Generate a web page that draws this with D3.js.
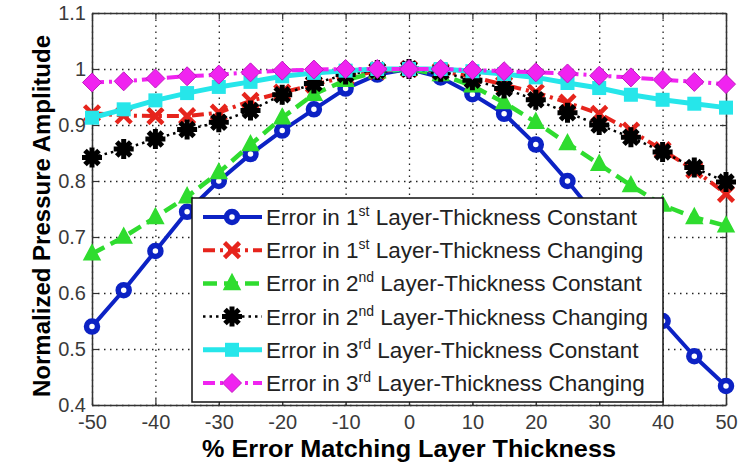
<!DOCTYPE html>
<html>
<head>
<meta charset="utf-8">
<script src="https://cdn.jsdelivr.net/npm/d3@7"></script>
<style>
body { margin: 0; background: #fff; }
svg text { font-family: "Liberation Sans", Arial, sans-serif; }
</style>
</head>
<body>
<div id="plot"></div>
<script>
var W = 745, H = 464;
var padLeft = 92, padRight = 726, padTop = 13, padBottom = 405;

// data
var errPct = [-50,-45,-40,-35,-30,-25,-20,-15,-10,-5,0,5,10,15,20,25,30,35,40,45,50];
var layer1Const  = [0.54,0.605,0.675,0.745,0.80,0.848,0.89,0.928,0.965,0.99,1.0,0.985,0.955,0.92,0.865,0.80,0.73,0.64,0.55,0.487,0.434];
var layer1Change = [0.921,0.917,0.916,0.916,0.922,0.943,0.958,0.972,0.986,0.996,1.0,0.996,0.986,0.972,0.958,0.94,0.92,0.89,0.855,0.82,0.777];
var layer2Const  = [0.67,0.70,0.735,0.772,0.815,0.865,0.913,0.955,0.98,0.995,1.0,0.99,0.97,0.94,0.905,0.867,0.83,0.792,0.757,0.735,0.72];
var layer2Change = [0.842,0.857,0.875,0.892,0.905,0.926,0.954,0.974,0.99,0.998,1.0,0.995,0.98,0.965,0.945,0.922,0.90,0.878,0.852,0.824,0.798];
var layer3Const  = [0.913,0.928,0.944,0.957,0.968,0.977,0.987,0.993,0.997,1.0,1.0,1.0,0.996,0.991,0.985,0.975,0.966,0.954,0.945,0.938,0.931];
var layer3Change = [0.976,0.978,0.983,0.987,0.99,0.994,0.997,0.999,1.0,1.0,1.0,1.0,0.998,0.996,0.994,0.992,0.988,0.985,0.981,0.977,0.973];
var xTicks = [-50,-40,-30,-20,-10,0,10,20,30,40,50];
var yTicks = [0.4,0.5,0.6,0.7,0.8,0.9,1.0,1.1];
var legendOrd = ["1","1","2","2","3","3"];
var legendSup = ["st","st","nd","nd","rd","rd"];
var legendEnd = ["Constant","Changing","Constant","Changing","Constant","Changing"];

var series = [
	{vals: layer1Const,  color: "#0c22c4", dash: null,          width: 4,   marker: "circle"},
	{vals: layer1Change, color: "#e6241c", dash: "12,5,3,5",    width: 4,   marker: "x"},
	{vals: layer2Const,  color: "#2fdc2f", dash: "14,7",        width: 4.5, marker: "triangle"},
	{vals: layer2Change, color: "#000000", dash: "2.5,4",       width: 2.5, marker: "asterisk"},
	{vals: layer3Const,  color: "#26e6ea", dash: null,          width: 5,   marker: "square"},
	{vals: layer3Change, color: "#f023f0", dash: "12,5,3,5",    width: 4,   marker: "diamond"}
];

var svg = d3.select('#plot').append('svg')
	.attr('width', W)
	.attr('height', H)

var x = d3.scaleLinear().domain([-50, 50]).range([padLeft, padRight]);
var y = d3.scaleLinear().domain([0.4, 1.1]).range([padBottom, padTop]);

// grid
var grid = svg.append('g');
grid.append('g').attr('transform', 'translate(0,' + padBottom + ')')
	.call(d3.axisBottom(x).tickValues(xTicks).tickSize(-(padBottom - padTop)).tickFormat(''));
grid.append('g').attr('transform', 'translate(' + padLeft + ',0)')
	.call(d3.axisLeft(y).tickValues(yTicks).tickSize(-(padRight - padLeft)).tickFormat(''));
grid.selectAll('.domain').remove();
grid.selectAll('line').attr('stroke', '#222').attr('stroke-width', 1.3).attr('stroke-dasharray', '1.5,4.5');

// frame + inward ticks
function styleAxis(g){
	g.select('.domain').attr('stroke', '#333').attr('stroke-width', 1.5);
	g.selectAll('line').attr('stroke', '#333').attr('stroke-width', 1.2);
	g.selectAll('text').attr('font-size', 20).attr('fill', '#3a3a3a');
}
svg.append('g').attr('transform', 'translate(0,' + padBottom + ')')
	.call(d3.axisBottom(x).tickValues(xTicks).tickSize(-6).tickSizeOuter(0).tickPadding(10).tickFormat(function(d){ return String(d) }))
	.call(styleAxis);
svg.append('g').attr('transform', 'translate(0,' + padTop + ')')
	.call(d3.axisTop(x).tickValues(xTicks).tickSize(-6).tickSizeOuter(0).tickFormat(''))
	.call(styleAxis);
svg.append('g').attr('transform', 'translate(' + padLeft + ',0)')
	.call(d3.axisLeft(y).tickValues(yTicks).tickSize(-6).tickSizeOuter(0).tickPadding(6).tickFormat(function(d){ return d == 1 ? '1' : d3.format('.1f')(d) }))
	.call(styleAxis);
svg.append('g').attr('transform', 'translate(' + padRight + ',0)')
	.call(d3.axisRight(y).tickValues(yTicks).tickSize(-6).tickSizeOuter(0).tickFormat(''))
	.call(styleAxis);

// markers
function addMarker(g, type, color){
	if (type == 'circle'){
		g.append('circle').attr('r', 5.5).attr('fill', '#fff').attr('stroke', color).attr('stroke-width', 5.5);
	} else if (type == 'x'){
		g.append('path').attr('d', 'M-7.5,-7.5L7.5,7.5M-7.5,7.5L7.5,-7.5').attr('stroke', color).attr('stroke-width', 4.5);
	} else if (type == 'triangle'){
		g.append('path').attr('d', 'M0,-9L8,6L-8,6Z').attr('fill', color).attr('stroke', color).attr('stroke-width', 1.5);
	} else if (type == 'asterisk'){
		g.append('path').attr('d', 'M-10,0L10,0M0,-10L0,10M-7,-7L7,7M-7,7L7,-7').attr('stroke', color).attr('stroke-width', 5);
	} else if (type == 'square'){
		g.append('rect').attr('x', -7).attr('y', -7).attr('width', 14).attr('height', 14).attr('fill', color);
	} else if (type == 'diamond'){
		g.append('path').attr('d', 'M0,-9.5L9.5,0L0,9.5L-9.5,0Z').attr('fill', color).attr('stroke', '#c018c0').attr('stroke-width', 1);
	}
}

var line = d3.line().x(function(d, i){ return x(errPct[i]) }).y(function(d){ return y(d) });

for (i in series){
	s = series[i]
	g = svg.append('g')
	g.append('path').attr('d', line(s.vals)).attr('fill', 'none')
		.attr('stroke', s.color).attr('stroke-width', s.width)
		.attr('stroke-dasharray', s.dash).attr('stroke-linejoin', 'round');
	for (j in s.vals){
		m = g.append('g').attr('transform', 'translate(' + x(errPct[j]) + ',' + y(s.vals[j]) + ')')
		addMarker(m, s.marker, s.color)
	}
}

// legend
var lg = svg.append('g');
lg.append('rect').attr('x', 192).attr('y', 198).attr('width', 471).attr('height', 204)
	.attr('fill', '#fff').attr('stroke', '#111').attr('stroke-width', 1.5);
for (i in series){
	s = series[i]
	cy = 217 + i * 33.2
	lg.append('line').attr('x1', 203).attr('x2', 262).attr('y1', cy).attr('y2', cy)
		.attr('stroke', s.color).attr('stroke-width', s.width).attr('stroke-dasharray', s.dash);
	addMarker(lg.append('g').attr('transform', 'translate(232,' + cy + ')'), s.marker, s.color)
	t = lg.append('text').attr('x', 266).attr('y', cy + 8).attr('font-size', 22.5).attr('fill', '#222')
	t.append('tspan').text('Error in ' + legendOrd[i])
	t.append('tspan').attr('dy', -9).attr('font-size', 14).text(legendSup[i])
	t.append('tspan').attr('dy', 9).text(' Layer-Thickness ' + legendEnd[i])
}

// titles
svg.append('text').attr('x', 409).attr('y', 457).attr('text-anchor', 'middle')
	.attr('font-size', 24).attr('font-weight', 'bold')
	.attr('textLength', 414).attr('lengthAdjust', 'spacingAndGlyphs')
	.text('% Error Matching Layer Thickness');
svg.append('text').attr('transform', 'translate(50,216) rotate(-90)').attr('text-anchor', 'middle')
	.attr('font-size', 23).attr('font-weight', 'bold')
	.attr('textLength', 362).attr('lengthAdjust', 'spacingAndGlyphs')
	.text('Normalized Pressure Amplitude');
</script>
</body>
</html>
